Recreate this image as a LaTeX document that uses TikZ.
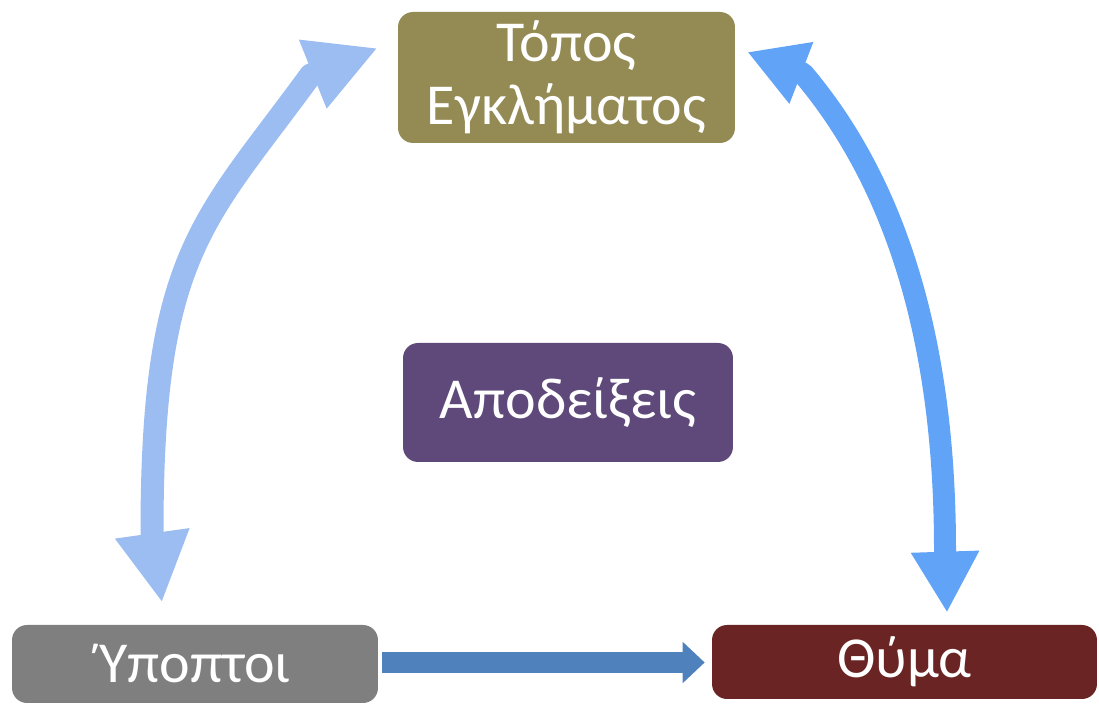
\documentclass[tikz,border=0pt]{standalone}
\usepackage{fontspec}
\setmainfont{Carlito}
\usepackage{xcolor}
\usetikzlibrary{arrows.meta,positioning,calc}

\definecolor{olivebox}{HTML}{948A54}
\definecolor{purplebox}{HTML}{5F497A}
\definecolor{greybox}{HTML}{7F7F7F}
\definecolor{redbox}{HTML}{6B2424}
\definecolor{paleblue}{HTML}{9CBDF2}
\definecolor{brightblue}{HTML}{60A3F7}
\definecolor{darkblue}{HTML}{4F81BD}

\begin{document}
\begin{tikzpicture}[x=0.02cm, y=0.02cm,
  box/.style={rounded corners=0.3cm, text=white, align=center, inner sep=0pt,
    font=\fontsize{33}{36}\selectfont},
  leftarr/.style={draw=paleblue, line width=0.46cm, line join=round,
    arrows={Triangle[length=1.4cm,width=1.4cm]-Triangle[length=1.4cm,width=1.38cm]}},
  rightarr/.style={draw=brightblue, line width=0.44cm, line join=round,
    arrows={Triangle[length=1.22cm,width=1.28cm]-Triangle[length=1.16cm,width=1.24cm]}},
  flatarr/.style={draw=darkblue, line width=0.42cm,
    arrows={-Triangle[length=0.44cm,width=0.8cm]}}]

  % Canvas
  \useasboundingbox (0,0) rectangle (1099,705);

  % Boxes
  \node[box, fill=olivebox, minimum width=6.74cm, minimum height=2.62cm] (T) at (566.5,627.5) {Τόπος\\Εγκλήματος};
  \node[box, fill=purplebox, minimum width=6.6cm, minimum height=2.38cm] (A) at (568,302.5) {Αποδείξεις};
  \node[box, fill=greybox, minimum width=7.32cm, minimum height=1.56cm] (U) at (195,41) {Ύποπτοι};
  \node[box, fill=redbox, minimum width=7.7cm, minimum height=1.48cm] (O) at (904.5,43) {Θύμα};

  % Arrows between boxes
  \draw[leftarr] ($(U.north)+(-33,22)$) -- ($(U.north)+(-43,93)$)
    .. controls +(0,280) and +(-105.8,-145.6) .. ($(T.west)+(-87,2.5)$) -- ($(T.west)+(-20,29.5)$);
  \draw[rightarr] ($(O.north)+(42.5,12)$) -- ($(O.north)+(40.5,75)$)
    .. controls +(0,200) and +(97,-114.3) .. ($(T.east)+(67.5,4)$) -- ($(T.east)+(12,25.5)$);
  \draw[flatarr] ($(U.east)+(4,1.5)$) -- ($(U.east -| O.west)+(-7,1.5)$);
\end{tikzpicture}
\end{document}
